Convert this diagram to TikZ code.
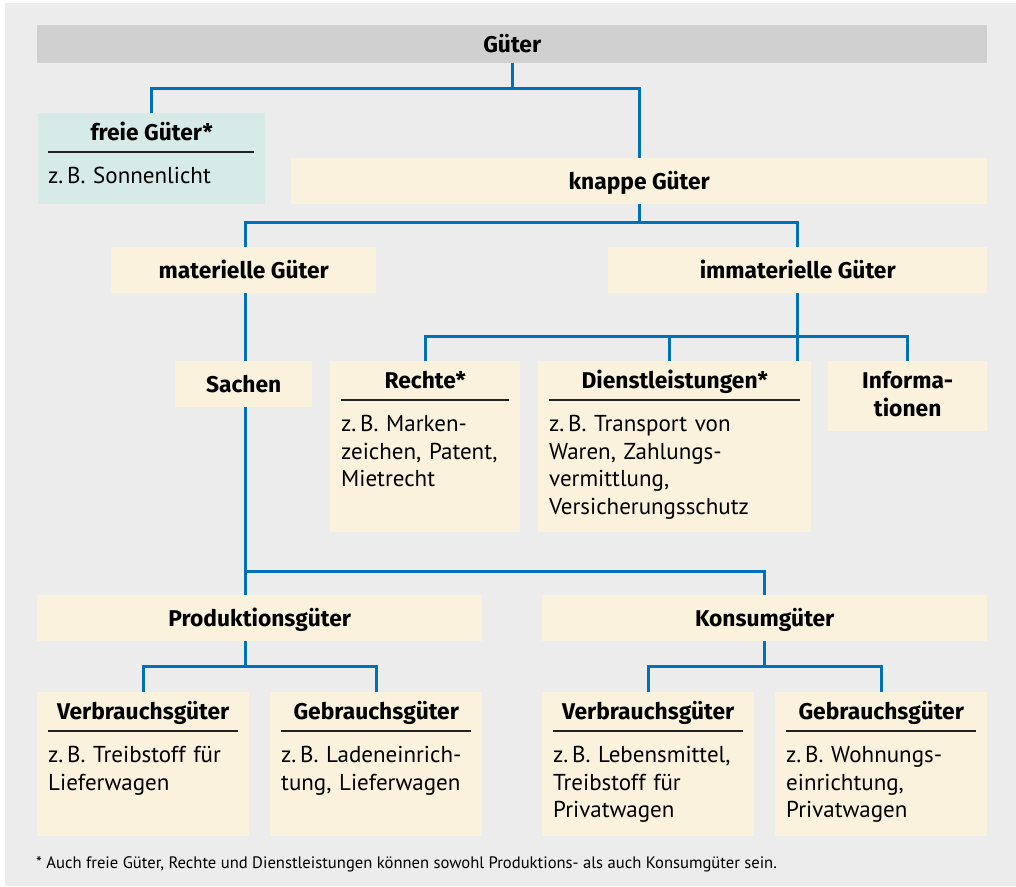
\documentclass[tikz,border=0pt]{standalone}
\usepackage{fontspec}
\setmainfont{PT Sans}
\newfontfamily\headfont{Fira Sans}
\usepackage{tikz}
\usetikzlibrary{positioning}
\definecolor{bggray}{RGB}{236, 236, 236}
\definecolor{bargray}{RGB}{207, 208, 207}
\definecolor{boxcream}{RGB}{250, 242, 220}
\definecolor{boxteal}{RGB}{214, 234, 231}
\definecolor{linkblue}{RGB}{0, 112, 186}
\definecolor{rulegray}{RGB}{34, 34, 34}
\newcommand{\chartsize}{\fontsize{23}{27.5}\selectfont}
\newcommand{\headsize}{\headfont\fontsize{22.8}{27.5}\selectfont\bfseries}
\tikzstyle{block} = [rectangle, fill=boxcream, anchor=north west, inner sep=0pt,
    text height=15.7pt, text depth=0pt, font=\headsize]
\tikzstyle{head} = [anchor=base, inner sep=0pt, font=\headsize]
\tikzstyle{body} = [anchor=base west, inner sep=0pt, align=left, font=\chartsize]
\tikzstyle{rule} = [draw=rulegray, line width=1.5pt]
\tikzstyle{line} = [draw=linkblue, line width=3pt]

\begin{document}
\begin{tikzpicture}[x=1pt, y=-1pt]
  \useasboundingbox (0,0) rectangle (1016,886);
  \fill [bggray] (5,3) rectangle (1016,886);
  % top levels
  \node [block, fill=bargray, minimum width=950, minimum height=38] (gueter) at (37,25) {Güter};
  \node [block, fill=boxteal, minimum width=227, minimum height=91] (freie) at (38,113) {};
  \node [block, minimum width=696, minimum height=46] (knappe) at (291,158) {knappe Güter};
  \node [block, minimum width=265, minimum height=46] (materielle) at (111,247) {materielle Güter};
  \node [block, minimum width=379, minimum height=46] (immaterielle) at (608,247) {immaterielle Güter};
  \node [block, minimum width=137, minimum height=46] (sachen) at (175,361) {Sachen};
  \node [block, minimum width=190, minimum height=171] (rechte) at (330,361) {};
  \node [block, minimum width=273, minimum height=171] (dienst) at (538,361) {};
  \node [block, minimum width=159, minimum height=70] (info) at (828,361) {};
  \node [block, minimum width=445, minimum height=46] (produktion) at (37,595) {Produktionsgüter};
  \node [block, minimum width=445, minimum height=46] (konsum) at (542,595) {Konsumgüter};
  \node [block, minimum width=212, minimum height=144] (p_verbrauch) at (37,692) {};
  \node [block, minimum width=212, minimum height=144] (p_gebrauch) at (270,692) {};
  \node [block, minimum width=212, minimum height=144] (k_verbrauch) at (542,692) {};
  \node [block, minimum width=212, minimum height=144] (k_gebrauch) at (775,692) {};
  % titles, rules and examples
  \node [head] (freie_head) at ([yshift=-27.5]freie.north) {freie Güter*};
  \path [rule] ([xshift=10, yshift=-39]freie.north west) -- ([xshift=-11, yshift=-39]freie.north east);
  \node [body, text width=205] (freie_body) at ([xshift=10, yshift=-70.5]freie.north west) {z.\,B. Sonnenlicht};
  \node [head] (rechte_head) at ([yshift=-27.5]rechte.north) {Rechte*};
  \path [rule] ([xshift=11, yshift=-39]rechte.north west) -- ([xshift=-11, yshift=-39]rechte.north east);
  \node [body, text width=168] (rechte_body) at ([xshift=11, yshift=-70.5]rechte.north west) {z.\,B. Marken-\\zeichen, Patent,\\Mietrecht};
  \node [head] (dienst_head) at ([yshift=-27.5]dienst.north) {Dienstleistungen*};
  \path [rule] ([xshift=11, yshift=-39]dienst.north west) -- ([xshift=-11, yshift=-39]dienst.north east);
  \node [body, text width=251] (dienst_body) at ([xshift=11, yshift=-70.5]dienst.north west) {z.\,B. Transport von\\Waren, Zahlungs-\\vermittlung,\\Versicherungsschutz};
  \node [head, text width=137, align=center] (info_head) at ([yshift=-27.5]info.north) {Informa-\\tionen};
  \node [head] (p_verbrauch_head) at ([yshift=-27.5]p_verbrauch.north) {Verbrauchsgüter};
  \path [rule] ([xshift=11, yshift=-39]p_verbrauch.north west) -- ([xshift=-11, yshift=-39]p_verbrauch.north east);
  \node [body, text width=190] (p_verbrauch_body) at ([xshift=11, yshift=-70.5]p_verbrauch.north west) {z.\,B. Treibstoff für\\Lieferwagen};
  \node [head] (p_gebrauch_head) at ([yshift=-27.5]p_gebrauch.north) {Gebrauchsgüter};
  \path [rule] ([xshift=11, yshift=-39]p_gebrauch.north west) -- ([xshift=-11, yshift=-39]p_gebrauch.north east);
  \node [body, text width=190] (p_gebrauch_body) at ([xshift=11, yshift=-70.5]p_gebrauch.north west) {z.\,B. Ladeneinrich-\\tung, Lieferwagen};
  \node [head] (k_verbrauch_head) at ([yshift=-27.5]k_verbrauch.north) {Verbrauchsgüter};
  \path [rule] ([xshift=11, yshift=-39]k_verbrauch.north west) -- ([xshift=-11, yshift=-39]k_verbrauch.north east);
  \node [body, text width=190] (k_verbrauch_body) at ([xshift=11, yshift=-70.5]k_verbrauch.north west) {z.\,B. Lebensmittel,\\Treibstoff für\\Privatwagen};
  \node [head] (k_gebrauch_head) at ([yshift=-27.5]k_gebrauch.north) {Gebrauchsgüter};
  \path [rule] ([xshift=11, yshift=-39]k_gebrauch.north west) -- ([xshift=-11, yshift=-39]k_gebrauch.north east);
  \node [body, text width=190] (k_gebrauch_body) at ([xshift=11, yshift=-70.5]k_gebrauch.north west) {z.\,B. Wohnungs-\\einrichtung,\\Privatwagen};
  % connectors
  \path [line] (gueter.south) -- ++(0,25) coordinate (g_fork) -| (freie.north);
  \path [line] (g_fork) -| (knappe.north);
  \path [line] (knappe.south) -- ++(0,18) coordinate (k_fork) -| ([xshift=1.5]materielle.north);
  \path [line] (k_fork) -| (immaterielle.north);
  \path [line] ([xshift=1.5]materielle.south) -- ([xshift=1.5]sachen.north);
  \path [line] (immaterielle.south) -- (immaterielle.south |- dienst.north);
  \path [line] ([yshift=-43]immaterielle.south) -| (rechte.north);
  \path [line] ([yshift=-43]immaterielle.south) -| ([xshift=-5.5]dienst.north);
  \path [line] ([yshift=-43]immaterielle.south) -| (info.north);
  \path [line] ([xshift=1.5]sachen.south) -- ([xshift=1.5]sachen.south |- produktion.north);
  \path [line] ([xshift=1.5, yshift=-164]sachen.south) -| (konsum.north);
  \path [line] ([xshift=1.5]sachen.south |- produktion.south) -- ++(0,25) coordinate (p_fork) -| (p_verbrauch.north);
  \path [line] (p_fork) -| (p_gebrauch.north);
  \path [line] (konsum.south) -- ++(0,25) coordinate (c_fork) -| (k_verbrauch.north);
  \path [line] (c_fork) -| (k_gebrauch.north);
  % footnote
  \node [anchor=base west, inner sep=0pt, font=\fontsize{16.6}{19}\selectfont] (note) at (36,868) {* Auch freie Güter, Rechte und Dienstleistungen können sowohl Produktions- als auch Konsumgüter sein.};
\end{tikzpicture}
\end{document}
